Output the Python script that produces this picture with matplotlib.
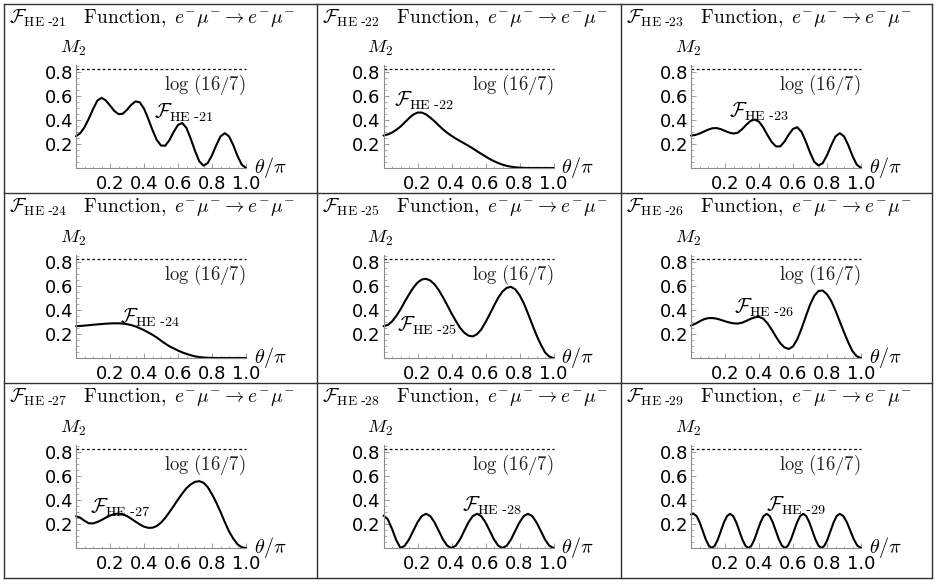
import numpy as np
import matplotlib
matplotlib.use("Agg")
import matplotlib.pyplot as plt
from matplotlib.lines import Line2D
from matplotlib.ticker import MultipleLocator, FixedLocator

plt.rcParams['mathtext.fontset'] = 'cm'
plt.rcParams['font.family'] = ['DejaVu Sans']

# ---------------- data ----------------
theta = np.linspace(0, 1, 41)  # sampling positions theta/pi

he21 = [0.265, 0.29, 0.34, 0.41, 0.49, 0.56, 0.585, 0.564, 0.521, 0.476, 0.449,
        0.452, 0.485, 0.527, 0.555, 0.547, 0.495, 0.41, 0.316, 0.234, 0.187,
        0.186, 0.233, 0.302, 0.359, 0.375, 0.333, 0.244, 0.143, 0.056, 0.02,
        0.041, 0.106, 0.19, 0.263, 0.29, 0.264, 0.191, 0.1, 0.028, 0.0]
he22 = [0.27, 0.28, 0.295, 0.318, 0.345, 0.38, 0.415, 0.445, 0.462, 0.462, 0.447,
        0.42, 0.39, 0.355, 0.322, 0.293, 0.268, 0.245, 0.225, 0.205, 0.185,
        0.163, 0.14, 0.118, 0.096, 0.075, 0.057, 0.041, 0.028, 0.018, 0.011,
        0.006, 0.003, 0.001, 0.0, 0.0, 0.0, 0.0, 0.0, 0.0, 0.0]
he23 = [0.27, 0.275, 0.287, 0.303, 0.319, 0.331, 0.333, 0.324, 0.309, 0.295, 0.287,
        0.294, 0.323, 0.36, 0.392, 0.404, 0.386, 0.338, 0.274, 0.216, 0.18,
        0.18, 0.22, 0.278, 0.326, 0.339, 0.302, 0.222, 0.13, 0.052, 0.02,
        0.041, 0.106, 0.19, 0.263, 0.29, 0.264, 0.191, 0.1, 0.028, 0.0]
he24 = [0.265, 0.267, 0.27, 0.273, 0.277, 0.28, 0.283, 0.286, 0.288, 0.289, 0.289,
        0.287, 0.282, 0.274, 0.263, 0.248, 0.232, 0.213, 0.193, 0.171, 0.145,
        0.12, 0.097, 0.08, 0.062, 0.047, 0.034, 0.023, 0.014, 0.008, 0.004,
        0.002, 0.001, 0.0, 0.0, 0.0, 0.0, 0.0, 0.0, 0.0, 0.0]
he25 = [0.265, 0.275, 0.304, 0.35, 0.405, 0.469, 0.53, 0.585, 0.628, 0.654, 0.66,
        0.646, 0.614, 0.566, 0.506, 0.44, 0.372, 0.31, 0.252, 0.211, 0.186,
        0.18, 0.198, 0.238, 0.298, 0.365, 0.436, 0.502, 0.554, 0.585, 0.593,
        0.572, 0.525, 0.457, 0.37, 0.279, 0.19, 0.113, 0.047, 0.012, 0.0]
he26 = [0.27, 0.285, 0.305, 0.322, 0.332, 0.333, 0.328, 0.318, 0.306, 0.296, 0.289,
        0.287, 0.294, 0.309, 0.326, 0.339, 0.343, 0.328, 0.289, 0.236, 0.177,
        0.123, 0.088, 0.075, 0.096, 0.156, 0.244, 0.345, 0.443, 0.518, 0.559,
        0.562, 0.531, 0.475, 0.395, 0.305, 0.215, 0.13, 0.057, 0.014, 0.0]
he27 = [0.265, 0.252, 0.227, 0.206, 0.205, 0.216, 0.233, 0.253, 0.27, 0.283, 0.287,
        0.281, 0.266, 0.244, 0.22, 0.197, 0.178, 0.168, 0.169, 0.183, 0.211,
        0.251, 0.30, 0.351, 0.404, 0.454, 0.499, 0.53, 0.551, 0.557, 0.544,
        0.507, 0.448, 0.379, 0.301, 0.217, 0.139, 0.078, 0.031, 0.006, 0.0]
he28 = [0.27, 0.24, 0.16, 0.065, 0.0,
        0.019, 0.071, 0.143, 0.214, 0.266, 0.285, 0.266, 0.214, 0.143, 0.071, 0.019, 0.0,
        0.019, 0.071, 0.143, 0.214, 0.266, 0.285, 0.266, 0.214, 0.143, 0.071, 0.019, 0.0,
        0.019, 0.071, 0.143, 0.214, 0.266, 0.285, 0.266, 0.214, 0.143, 0.071, 0.019, 0.0]

theta29 = [0, 0.015, 0.033, 0.051, 0.069, 0.087, 0.105, 0.1225, 0.140, 0.158, 0.176,
           0.194, 0.212, 0.230, 0.248, 0.266, 0.284, 0.302, 0.320, 0.3375, 0.355,
           0.373, 0.391, 0.409, 0.427, 0.445, 0.463, 0.481, 0.499, 0.517, 0.535,
           0.5525, 0.570, 0.588, 0.606, 0.624, 0.642, 0.660, 0.678, 0.696, 0.714,
           0.732, 0.750, 0.7675, 0.785, 0.803, 0.821, 0.839, 0.857, 0.875, 0.896,
           0.917, 0.9375, 0.958, 0.979, 1.0]
he29 = [0.28, 0.285,
        0.266, 0.214, 0.143, 0.071, 0.019, 0.0,
        0.019, 0.071, 0.143, 0.214, 0.266, 0.285,
        0.266, 0.214, 0.143, 0.071, 0.019, 0.0,
        0.019, 0.071, 0.143, 0.214, 0.266, 0.285,
        0.266, 0.214, 0.143, 0.071, 0.019, 0.0,
        0.019, 0.071, 0.143, 0.214, 0.266, 0.285,
        0.266, 0.214, 0.143, 0.071, 0.019, 0.0,
        0.019, 0.071, 0.143, 0.214, 0.266, 0.285,
        0.266, 0.214, 0.143, 0.071, 0.019, 0.0]

names = ['21', '22', '23', '24', '25', '26', '27', '28', '29']
xs = [theta] * 8 + [theta29]
ys = [he21, he22, he23, he24, he25, he26, he27, he28, he29]
log_value = np.log(16 / 7)
xticks = [0.2, 0.4, 0.6, 0.8, 1.0]
xticklabels = ['0.2', '0.4', '0.6', '0.8', '1.0']
yticks = [0.2, 0.4, 0.6, 0.8]
yticklabels = ['0.2', '0.4', '0.6', '0.8']

# ---------------- layout ----------------
W, H = 936, 584
fig = plt.figure(figsize=(W / 100, H / 100), dpi=100)

col_axis_x = [76, 383.5, 691]
row_axis_y = [168, 358, 548]
col_left = [4, 317, 621, 932]
row_top = [4, 193, 383, 578]
ax_w = 170
y_top = 0.86
px_per_unit = 120
ax_h = y_top * px_per_unit

label_pos = [(0.459, 0.46), (0.059, 0.557), (0.222, 0.465),
             (0.258, 0.334), (0.078, 0.265), (0.25, 0.418),
             (0.082, 0.334), (0.46, 0.354), (0.44, 0.354)]

axis_gray = '#8c8c8c'


def fname(n):
    return r'\mathcal{F}_{\mathrm{HE}\ \mathrm{' + '\u2010' + n + r'}}'


for i in range(9):
    r, c = divmod(i, 3)
    left = col_axis_x[c]
    bottom = row_axis_y[r]
    ax = fig.add_axes([left / W, 1 - bottom / H, ax_w / W, ax_h / H])
    ax.set_xlim(0, 1.0)
    ax.set_ylim(0, y_top)
    for s in ['top', 'right']:
        ax.spines[s].set_visible(False)
    for s in ['left', 'bottom']:
        ax.spines[s].set_color(axis_gray)
        ax.spines[s].set_linewidth(0.8)
    ax.patch.set_alpha(0)

    ax.xaxis.set_major_locator(FixedLocator(xticks))
    ax.set_xticklabels(xticklabels)
    ax.yaxis.set_major_locator(FixedLocator(yticks))
    ax.set_yticklabels(yticklabels)
    ax.xaxis.set_minor_locator(MultipleLocator(0.05))
    ax.yaxis.set_minor_locator(MultipleLocator(0.05))
    ax.tick_params(which='major', direction='in', length=3.5, width=0.6,
                   color=axis_gray, labelsize=13, labelcolor='black')
    ax.tick_params(axis='x', which='major', pad=5)
    ax.tick_params(axis='y', which='major', pad=2)
    ax.tick_params(which='minor', direction='in', length=1.8, width=0.5,
                   color=axis_gray)

    ax.plot([0, 1.0], [log_value, log_value], color='black', lw=0.9,
            dashes=(2.2, 2.0), clip_on=False)
    ax.plot(xs[i], ys[i], color='black', lw=1.5, clip_on=False,
            solid_capstyle='round')

    ax.text(1.0, log_value - 0.03, r'$\log\,(16/7)$', ha='right', va='top',
            fontsize=13.5, color='#222222')
    lx, ly = label_pos[i]
    ax.text(lx, ly, '$' + fname(names[i]) + '$',
            ha='left', va='center', fontsize=14.5)
    ax.text(1.045, 0.0, r'$\theta/\pi$', ha='left', va='center', fontsize=14.5,
            clip_on=False)
    ax.text(-0.02, 1.0, r'$M_2$', ha='center', va='center', fontsize=13.5,
            clip_on=False)

    # panel title
    tx = col_left[c] + 5
    ty = row_top[r] + 19
    fig.text(tx / W, 1 - ty / H,
             '$' + fname(names[i]) + r'\quad \mathrm{Function,}\ '
             r'e^{-}\mu^{-}\rightarrow e^{-}\mu^{-}$',
             ha='left', va='baseline', fontsize=14)

# panel borders
for x in col_left:
    fig.add_artist(Line2D([x / W, x / W], [1 - row_top[0] / H, 1 - row_top[-1] / H],
                          transform=fig.transFigure, color='#333333', lw=1.0))
for y in row_top:
    fig.add_artist(Line2D([col_left[0] / W, col_left[-1] / W], [1 - y / H, 1 - y / H],
                          transform=fig.transFigure, color='#333333', lw=1.0))

fig.savefig('out.png', dpi=100)
